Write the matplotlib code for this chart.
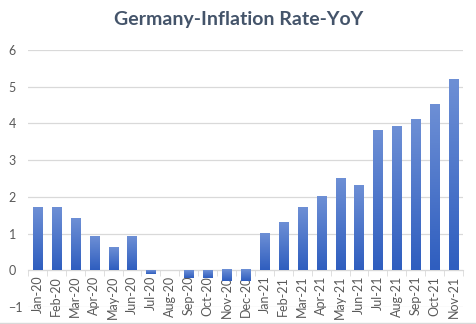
import numpy as np
import matplotlib
matplotlib.use("Agg")
import matplotlib.pyplot as plt
from matplotlib.colors import LinearSegmentedColormap
from matplotlib.lines import Line2D

plt.rcParams['font.family'] = ['Lato', 'DejaVu Sans']

months = ["Jan-20", "Feb-20", "Mar-20", "Apr-20", "May-20", "Jun-20",
          "Jul-20", "Aug-20", "Sep-20", "Oct-20", "Nov-20", "Dec-20",
          "Jan-21", "Feb-21", "Mar-21", "Apr-21", "May-21", "Jun-21",
          "Jul-21", "Aug-21", "Sep-21", "Oct-21", "Nov-21"]
rate = [1.7, 1.7, 1.4, 0.9, 0.6, 0.9, -0.1, 0.0, -0.2, -0.2, -0.3, -0.3,
        1.0, 1.3, 1.7, 2.0, 2.5, 2.3, 3.8, 3.9, 4.1, 4.5, 5.2]

fig = plt.figure(figsize=(4.77, 3.24), dpi=100)
ax = fig.add_axes([28/477, 1-307/324, (463-28)/477, (307-50)/324])

x = np.arange(len(months))
bars = ax.bar(x, rate, width=0.48, color="#4a72c8", zorder=2)

# vertical gradient per bar, light on top, darker at bottom
cmap = LinearSegmentedColormap.from_list("g", ["#2f5ebf", "#6d8fd5"])
grad = np.linspace(0, 1, 64).reshape(-1, 1)
for b in bars:
    h = b.get_height()
    if h == 0:
        continue
    x0 = b.get_x()
    y0, y1 = min(0, h), max(0, h)
    ax.imshow(grad, cmap=cmap, origin="lower", aspect="auto",
              extent=[x0, x0 + b.get_width(), y0, y1], zorder=2.1)

ax.set_xlim(-0.5, len(months) - 0.5)
ax.set_ylim(-1, 6)
ax.set_yticks(range(-1, 7))
ax.grid(axis="y", color="#d9d9d9", linewidth=0.9)
ax.set_axisbelow(True)

for s in ["top", "right", "left"]:
    ax.spines[s].set_visible(False)
ax.spines["bottom"].set_position(("data", 0))
ax.spines["bottom"].set_color("#d9d9d9")
ax.spines["bottom"].set_zorder(1)

ax.set_xticks(x)
ax.set_xticklabels(months, rotation=90, fontsize=9, color="#595959")
ax.set_xticks(np.arange(-0.5, len(months), 1), minor=True)
ax.tick_params(axis="x", which="major", length=0, pad=4)
ax.tick_params(axis="x", which="minor", length=4, color="#d9d9d9")
ax.tick_params(axis="y", length=0, labelsize=9, labelcolor="#595959", pad=14)
for lbl in ax.get_yticklabels():
    lbl.set_horizontalalignment("left")

fig.text(0.5, 1 - 20/324, "Germany-Inflation Rate-YoY", ha="center", va="center",
         fontsize=14, fontweight="bold", color="#44546a")

# faint chart border at the bottom
fig.add_artist(Line2D([0, 1], [1.5/324, 1.5/324], color="#d9d9d9", linewidth=1))

fig.savefig("out.png", dpi=100)
